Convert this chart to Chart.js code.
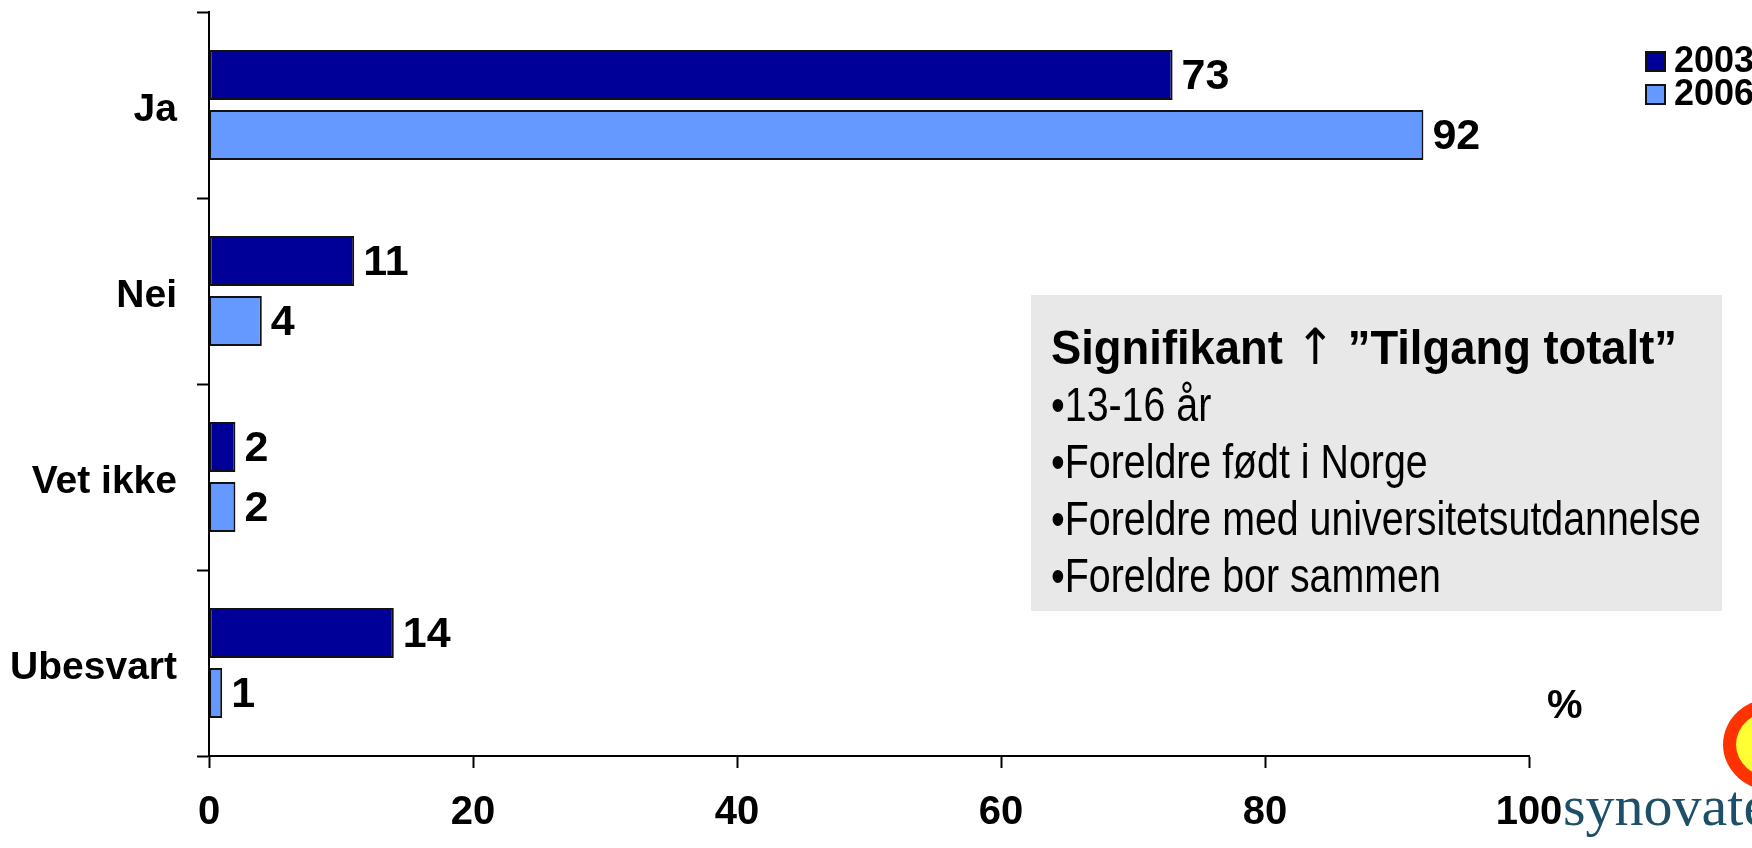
<!DOCTYPE html>
<html lang="no">
<head>
<meta charset="utf-8">
<title>Tilgang totalt</title>
<script src="https://cdn.jsdelivr.net/npm/chart.js@4.4.1/dist/chart.umd.min.js"></script>
<style>
    body { margin: 0; background: #fff; overflow: hidden; }
    #wrap { position: relative; width: 1752px; height: 848px; overflow: hidden; font-family: "Liberation Sans", Arial, sans-serif; }
    #chart { position: absolute; left: 0; top: 0; }
    .legend-row { position: absolute; left: 1645px; font-weight: bold; font-size: 36px; line-height: 36px; white-space: nowrap; }
    .legend-row span.box { display: inline-block; width: 17px; height: 17px; border: 2px solid #111; vertical-align: 0px; margin-right: 8px; }
    #pct { position: absolute; left: 1547px; top: 682px; font-weight: bold; font-size: 40px; }
    #note { position: absolute; left: 1031px; top: 295px; width: 691px; height: 316px; background: #e8e8e8; }
    #noteText { position: absolute; left: 20px; top: 24px; font-size: 48px; line-height: 57px; white-space: nowrap; }
    #noteText div { transform-origin: 0 0; }
    #noteText .title { font-weight: bold; }
    #noteText .arrow { font-family: "DejaVu Sans", sans-serif; font-weight: normal; font-size: 50px; }
    #ring { position: absolute; left: 1723px; top: 698px; width: 76px; height: 67px; border: 13px solid #ff3300;
            border-radius: 50%; background: #ffff33; }
    #logo { position: absolute; left: 1563px; top: 772px; font-family: "Liberation Serif", "DejaVu Serif", serif;
            font-size: 58px; color: #1d5068; white-space: nowrap; }
</style>
</head>
<body>
<div id="wrap">
    <canvas id="chart" width="1752" height="848"></canvas>
    <div class="legend-row" style="top: 42px;"><span class="box" style="background:#000099"></span>2003</div>
    <div class="legend-row" style="top: 75px;"><span class="box" style="background:#6699ff"></span>2006</div>
    <div id="note">
        <div id="noteText">
            <div class="title"><span>Signifikant <span class="arrow">↑</span> ”Tilgang totalt”</span></div>
            <div class="item"><span>•13-16 år</span></div>
            <div class="item"><span>•Foreldre født i Norge</span></div>
            <div class="item"><span id="longest">•Foreldre med universitetsutdannelse</span></div>
            <div class="item"><span>•Foreldre bor sammen</span></div>
        </div>
    </div>
    <div id="pct">%</div>
    <div id="ring"></div>
    <div id="logo">synovate</div>
</div>
<script>
    const categories = ["Ja", "Nei", "Vet ikke", "Ubesvart"];
    const years = ["2003", "2006"];
    const values2003 = [73, 11, 2, 14];
    const values2006 = [92, 4, 2, 1];
    const xTicks = [0, 20, 40, 60, 80, 100];

    // the box text is a condensed face in the original; squeeze the regular one to the same width
    const itemScale = 650 / document.getElementById("longest").getBoundingClientRect().width;
    document.querySelectorAll("#noteText .item").forEach(d => d.style.transform = "scaleX(" + itemScale + ")");
    const title = document.querySelector("#noteText .title");
    const titleScale = 626 / title.firstElementChild.getBoundingClientRect().width;
    title.style.transform = "scaleX(" + titleScale + ")";

    // value labels at the end of each bar
    const valueLabels = {
        id: "valueLabels",
        afterDatasetsDraw(chart) {
            const ctx = chart.ctx;
            ctx.save();
            ctx.font = "bold 43px 'Liberation Sans', Arial, sans-serif";
            ctx.fillStyle = "#000";
            ctx.textAlign = "left";
            ctx.textBaseline = "middle";
            chart.data.datasets.forEach((ds, i) => {
                chart.getDatasetMeta(i).data.forEach((bar, j) => {
                    ctx.fillText(String(ds.data[j]), bar.x + 9, bar.y + 2);
                });
            });
            ctx.restore();
        }
    };

    const ctx = document.getElementById("chart").getContext("2d");
    new Chart(ctx, {
        type: "bar",
        data: {
            labels: categories,
            datasets: [
                { label: years[0], data: values2003, backgroundColor: "#000099" },
                { label: years[1], data: values2006, backgroundColor: "#6699ff" }
            ]
        },
        options: {
            indexAxis: "y",
            responsive: false,
            animation: false,
            devicePixelRatio: 1,
            categoryPercentage: 0.645,
            barPercentage: 0.833,
            datasets: {
                bar: { borderColor: "#111", borderWidth: 2, borderSkipped: false }
            },
            layout: { padding: { left: 0, top: 12, right: 223, bottom: 0 } },
            plugins: { legend: { display: false }, tooltip: { enabled: false } },
            scales: {
                x: {
                    min: 0,
                    max: 100,
                    afterBuildTicks(scale) { scale.ticks = xTicks.map(v => ({ value: v })); },
                    afterFit(scale) { scale.height = 92; },
                    border: { color: "#000", width: 2 },
                    grid: { drawOnChartArea: false, tickLength: 12, tickColor: "#000", tickWidth: 2 },
                    ticks: {
                        color: "#000",
                        padding: 21,
                        font: { family: "'Liberation Sans', Arial, sans-serif", size: 40, weight: "bold" }
                    }
                },
                y: {
                    afterFit(scale) {
                        scale.width = 209;
                        scale.paddingTop = 0;
                        scale.paddingBottom = 0;
                    },
                    border: { color: "#000", width: 2 },
                    grid: { offset: true, drawOnChartArea: false, tickLength: 12, tickColor: "#000", tickWidth: 2 },
                    ticks: {
                        color: "#000",
                        padding: 20,
                        labelOffset: 5,
                        font: { family: "'Liberation Sans', Arial, sans-serif", size: 39, weight: "bold" }
                    }
                }
            }
        },
        plugins: [valueLabels]
    });
</script>
</body>
</html>
